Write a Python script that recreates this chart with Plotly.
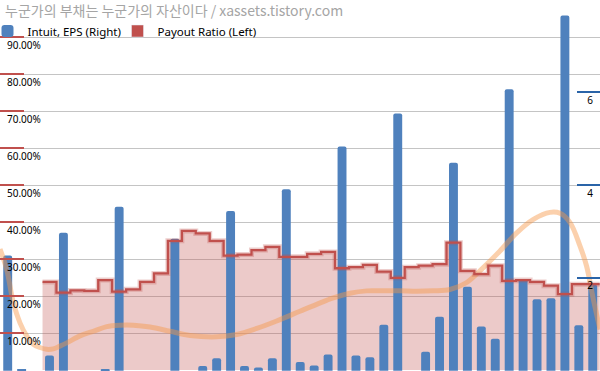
import plotly.graph_objects as go

# ---- data ----
quarter_index = list(range(43))

eps = [2.48, 0.02, None, 0.33, 2.97, None, None, 0.03, 3.53, None,
       None, None, 2.84, None, 0.10, 0.27, 3.44, 0.10, 0.07, 0.27,
       3.91, 0.19, 0.11, 0.35, 4.83, 0.33, 0.29, 0.99, 5.54, None,
       0.41, 1.16, 4.48, 1.81, 0.95, 0.69, 6.06, 1.97, 1.54, 1.56,
       7.65, 0.98, 1.85]

payout = [None, None, None, 0.238, 0.209, 0.215, 0.214, 0.243, 0.212, 0.218,
          0.238, 0.261, 0.349, 0.376, 0.369, 0.349, 0.309, 0.312, 0.324, 0.333,
          0.306, 0.306, 0.314, 0.319, 0.275, 0.278, 0.284, 0.266, 0.249, 0.278,
          0.282, 0.286, 0.344, 0.268, 0.259, 0.282, 0.241, 0.243, 0.238, 0.228,
          0.205, 0.232, 0.232]

trend_x = [-0.55, -0.07, 0.40, 0.88, 1.36, 1.84, 2.32, 2.80, 3.27, 3.75,
           4.24, 5.19, 6.15, 7.11, 8.06, 9.02, 10.22, 11.65, 13.09, 15.00,
           16.44, 17.88, 19.31, 20.98, 22.18, 23.37, 24.57, 25.77, 26.96, 28.16,
           29.36, 30.55, 31.75, 32.95, 34.14, 35.34, 36.54, 37.74, 38.93, 39.65,
           40.37, 41.08, 41.56, 42.04, 42.52]
trend_y = [2.62, 2.18, 1.47, 1.03, 0.75, 0.57, 0.50, 0.46, 0.47, 0.53,
           0.60, 0.75, 0.85, 0.95, 0.98, 0.98, 0.94, 0.85, 0.76, 0.73,
           0.78, 0.91, 1.07, 1.28, 1.43, 1.57, 1.67, 1.72, 1.72, 1.72,
           1.71, 1.72, 1.75, 1.90, 2.22, 2.58, 2.97, 3.26, 3.41, 3.39,
           3.19, 2.69, 2.25, 1.54, 0.89]

left_tick_vals = [0, 0.1, 0.2, 0.3, 0.4, 0.5, 0.6, 0.7, 0.8, 0.9, 1.0]
left_tick_text = ["0.00%", "10.00%", "20.00%", "30.00%", "40.00%", "50.00%",
                  "60.00%", "70.00%", "80.00%", "90.00%", ""]
right_tick_vals = [0, 2, 4, 6, 8]
right_tick_text = ["0", "2", "4", "6", ""]

title_text = "누군가의 부채는 누군가의 자산이다 / xassets.tistory.com"
eps_name = "Intuit, EPS (Right)"
payout_name = "Payout Ratio (Left)"

# ---- styles ----
BLUE = "#4F81BD"
RED = "#C0504D"
FONT = "Noto Sans"
W, H = 600, 371

# step points: each payout value spans its whole quarter
step_x, step_y = [], []
for q, v in zip(quarter_index, payout):
    if v is None:
        continue
    step_x.append(q - 0.5)
    step_y.append(v)
step_x.append(quarter_index[-1] + 0.5)
step_y.append(step_y[-1])

fig = go.Figure()

# area (behind the bars)
fig.add_trace(go.Scatter(
    x=step_x, y=step_y, mode="lines", line=dict(shape="hv", width=0),
    fill="tozeroy", fillcolor="rgba(192,80,77,0.30)",
    showlegend=False, hoverinfo="skip", yaxis="y"))

# EPS bars
fig.add_trace(go.Bar(
    x=quarter_index, y=eps, name=eps_name, width=0.64,
    marker=dict(color=BLUE, line=dict(width=0), cornerradius=2),
    yaxis="y2", legend="legend"))

# trendline of EPS
fig.add_trace(go.Scatter(
    x=trend_x, y=trend_y, mode="lines",
    line=dict(shape="spline", smoothing=1.0, color="rgba(247,150,70,0.45)", width=5),
    showlegend=False, hoverinfo="skip", yaxis="y2"))

# legend-only entry for payout ratio
fig.add_trace(go.Bar(
    x=[None], y=[None], name=payout_name, marker=dict(color=RED),
    yaxis="y3", legend="legend2"))

# soft halo under the payout step line
fig.add_trace(go.Scatter(
    x=step_x, y=step_y, mode="lines",
    line=dict(shape="hv", color="rgba(192,80,77,0.28)", width=5),
    showlegend=False, hoverinfo="skip", yaxis="y3"))

# payout step line (on top)
fig.add_trace(go.Scatter(
    x=step_x, y=step_y, mode="lines",
    line=dict(shape="hv", color=RED, width=2.3),
    showlegend=False, yaxis="y3"))

legend_style = dict(orientation="h", xanchor="left", y=1 - 31 / H, yanchor="middle",
                    bgcolor="rgba(0,0,0,0)", font=dict(family=FONT, size=11.5, color="black"))

fig.update_layout(
    width=W, height=H, autosize=False,
    margin=dict(l=0, r=0, t=0, b=0, pad=0, autoexpand=False),
    paper_bgcolor="white", plot_bgcolor="white",
    barmode="overlay",
    font=dict(family=FONT, size=10, color="black"),
    xaxis=dict(range=[-0.553, 42.52], visible=False),
    yaxis=dict(range=[-0.0027, 1.0], tickvals=left_tick_vals, ticktext=left_tick_text,
               showgrid=True, gridcolor="#C4C4C4", gridwidth=1,
               zeroline=False, showline=False,
               ticks="inside", ticklen=24, tickwidth=2, tickcolor=RED,
               ticklabelposition="inside", ticklabelshift=8, ticklabelstandoff=-18,
               tickfont=dict(family=FONT, size=10, color="black")),
    yaxis2=dict(range=[-0.006, 7.985], overlaying="y", side="right",
                tickvals=right_tick_vals, ticktext=right_tick_text,
                showgrid=False, zeroline=False, showline=False,
                ticks="inside", ticklen=23, tickwidth=2, tickcolor="#2A64A8",
                ticklabelposition="inside", ticklabelshift=8, ticklabelstandoff=-17,
                tickfont=dict(family=FONT, size=10, color="black")),
    yaxis3=dict(range=[-0.0027, 1.0], overlaying="y", visible=False),
    legend=dict(x=-12.5 / W, **legend_style),
    legend2=dict(x=117.5 / W, **legend_style),
    annotations=[dict(text=title_text, x=3 / W, y=1 - 10 / H, xref="paper", yref="paper",
                      xanchor="left", yanchor="middle", showarrow=False,
                      font=dict(family="Noto Sans CJK KR", size=14, color="#A5A5A5"))],
)

fig.write_html("out.html", config={"displayModeBar": False},
               post_script="document.body.style.margin='0';document.body.style.overflow='hidden';")
